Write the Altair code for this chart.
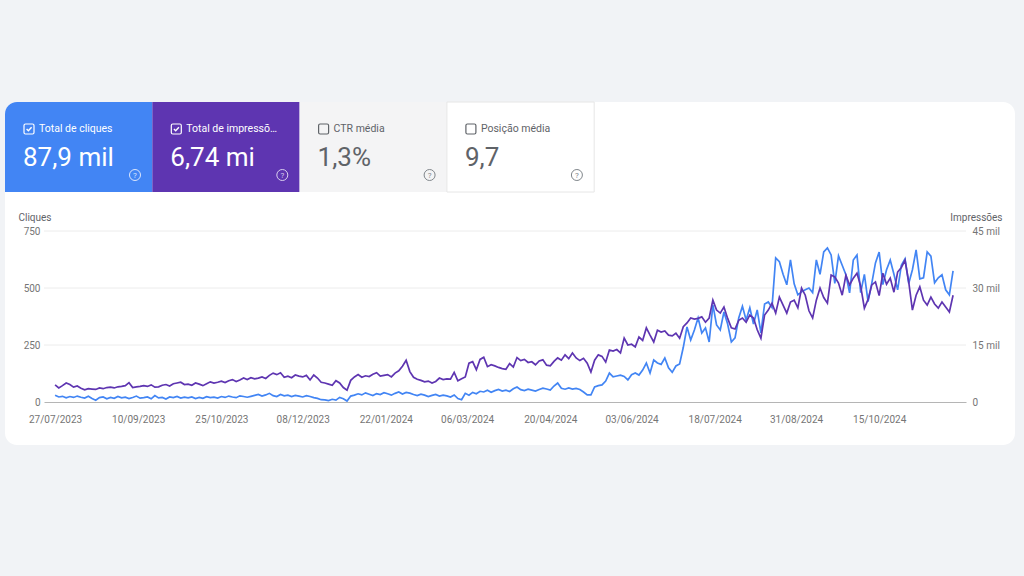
import altair as alt
import pandas as pd

# ---------------- data ----------------
tick_dates = ["27/07/2023", "10/09/2023", "25/10/2023", "08/12/2023", "22/01/2024",
              "06/03/2024", "20/04/2024", "03/06/2024", "18/07/2024", "31/08/2024",
              "15/10/2024"]
click_ticks = [0, 250, 500, 750]
impression_ticks = [0, 15000, 30000, 45000]

tile_labels = ["Total de cliques", "Total de impressõ…", "CTR média", "Posição média"]
tile_values = ["87,9 mil", "6,74 mi", "1,3%", "9,7"]
tile_checked = [True, True, False, False]

# one reading every two days, starting 27/07/2023
clicks = [
    30, 22, 25, 18, 24, 20, 26, 21, 17, 25,
    15, 8, 19, 22, 14, 20, 16, 24, 18, 21,
    15, 20, 26, 17, 19, 22, 14, 28, 18, 20,
    13, 22, 19, 24, 17, 21,
    18, 22, 15, 20, 16, 23, 19, 21, 17, 24,
    20, 26, 22, 19, 27, 24, 21, 25, 29, 33,
    26, 31, 38, 28, 24, 33, 27, 30, 24, 29,
    26, 22, 28, 24, 19, 16, 10,
    9, 6, 12, 8, 20, 14, 4, 26, 30, 36,
    31, 40, 34, 28, 37, 33, 41, 36, 30, 38,
    44, 35, 42, 39, 33, 28, 34, 30, 24, 29,
    33, 26, 30, 27, 22, 31, 15,
    10, 38, 30, 42, 36, 47, 44, 52, 43,
    50, 55, 48, 52, 46, 58, 66, 54, 50, 56,
    52, 48, 55, 61, 57, 52, 70, 83, 60, 56,
    62, 57, 60, 55, 44, 31,
    31, 66, 72, 75, 92, 127, 110, 114, 118, 112,
    97, 120, 127, 118, 140, 171, 127, 184, 171, 165,
    193, 150, 130, 158, 167, 240, 329, 272, 316, 369,
    303, 325, 263, 426, 338, 316,
    395, 342, 263, 281, 369, 420, 360, 413, 342, 404,
    303, 430, 439, 415, 632, 615, 560, 514, 623, 518,
    470, 483, 492, 500, 480, 623, 560, 658, 676, 645,
    520, 641, 600, 558, 479,
    623, 645, 480, 560, 440, 520, 610, 658, 515,
    580, 623, 560, 492, 600, 628, 520, 580, 667, 540,
    545, 658, 640, 523, 545, 558, 492, 470, 575,
]

impressions = [
    4500, 3700, 4300, 5000, 4600, 3900, 4200, 3600, 3200, 3500,
    3400, 3300, 3700, 3500, 3800, 3900, 3700, 4000, 4100, 4300,
    5100, 3800, 4000, 4100, 4300, 4100, 4500, 3900, 4000, 4400,
    4600, 4200, 4800, 5000, 5200, 4600,
    4700, 4400, 5000, 4700, 4300, 4800, 5300, 5000, 5200, 5500,
    5100, 5600, 5900, 5400, 5800, 6300, 5900, 6400, 6100, 6300,
    6600, 6200, 7000, 7600, 7200, 7700, 6500, 6800, 6400, 7100,
    6800, 6600, 7000, 5800, 7100, 6300, 5200,
    5000, 4700, 4400, 5600, 5000, 3800, 3100, 5700, 6600, 7200,
    6500, 6900, 6700, 7300, 7700, 6800, 7000, 7200, 6600, 7600,
    8200, 9400, 11000, 8000, 6500, 6000, 5700, 5300, 5500, 5000,
    5400, 6300, 5900, 6100, 6000, 7800, 5600,
    6100, 6600, 10200, 10600, 8500, 11200, 11800, 9300, 9800,
    9500, 9100, 8800, 8600, 10100, 9200, 11700, 10900, 11200, 10400,
    10600, 9800, 10800, 11100, 9700, 9500, 10700, 11600, 11000, 12400,
    11400, 12900, 11600, 10900, 11500, 10200,
    7900, 11000, 12400, 12000, 10500, 13700, 13400, 13800, 12900, 16800,
    15000, 15200, 14500, 17100, 16200, 19500, 17600, 15800, 18900, 18400,
    18700, 17600, 17400, 18100, 16800, 19800, 20800, 22100, 21800, 22000,
    22400, 21000, 22100, 26800, 24200, 23400,
    25000, 22000, 19500, 19200, 21500, 22100, 21000, 22900, 22100, 19000,
    16800, 22900, 24200, 26000, 23400, 27600, 25500, 23400, 26300, 26800,
    24800, 30000, 28100, 24000, 22100, 26800, 30000, 27500, 26000, 33400,
    32900, 31300, 28100, 33400, 30800,
    32600, 33900, 30500, 24700, 27000, 30800, 31600, 28000, 33900,
    31000, 32600, 28900, 34200, 35400, 37300, 31600, 24200, 28100, 30300,
    26800, 25500, 27600, 25800, 24700, 26300, 25000, 23700, 28100,
]

dates = pd.date_range("2023-07-27", periods=len(clicks), freq="2D")
series = pd.DataFrame({"date": dates, "clicks": clicks, "impressions": impressions})

# ---------------- styling ----------------
FONT = "Roboto"
BLUE = "#4285f4"
PURPLE = "#5e35b1"
PAGE_BG = "#f1f3f6"
GRID = "#ececec"
AXIS_TXT = "#757575"
DARK_TXT = "#5f6368"

# plot area in page pixels
PLOT_L, PLOT_T, W, H = 44, 231, 922, 171


def px(x):
    return x - PLOT_L


def py(y):
    return y - PLOT_T


def to_dt(s):
    d, m, y = s.split("/")
    return alt.DateTime(year=int(y), month=int(m), date=int(d))


one = pd.DataFrame({"k": [0]})

# white card that holds tiles and chart
card = alt.Chart(one).mark_rect(fill="white", cornerRadius=12).encode(
    x=alt.value(px(5)), x2=alt.value(px(1015)), y=alt.value(py(102)), y2=alt.value(py(445))
)

# metric tiles
tile_fill = [BLUE, PURPLE, "#f4f4f5", "#ffffff"]
layers = [card]
TILE_W = 147.3
for i, (lab, val, chk) in enumerate(zip(tile_labels, tile_values, tile_checked)):
    x0 = 5 + TILE_W * i
    fg = "white" if chk else DARK_TXT
    rect_kw = dict(fill=tile_fill[i])
    if i == 0:
        rect_kw["cornerRadiusTopLeft"] = 12
    if i == 3:
        rect_kw.update(stroke="#e6e6e6", strokeWidth=1)
    layers.append(alt.Chart(one).mark_rect(**rect_kw).encode(
        x=alt.value(px(x0)), x2=alt.value(px(x0 + TILE_W)),
        y=alt.value(py(102)), y2=alt.value(py(192))))
    # checkbox
    layers.append(alt.Chart(one).mark_rect(
        fill=tile_fill[i], stroke=fg, strokeWidth=1.2, cornerRadius=1.5).encode(
        x=alt.value(px(x0 + 19)), x2=alt.value(px(x0 + 29)),
        y=alt.value(py(124)), y2=alt.value(py(134))))
    if chk:
        layers.append(alt.Chart(one).mark_point(
            shape="M-0.6,0 L-0.15,0.45 L0.65,-0.45", filled=False, stroke="white",
            strokeWidth=1.4, size=64, opacity=1).encode(
            x=alt.value(px(x0 + 24)), y=alt.value(py(129))))
    layers.append(alt.Chart(one).mark_text(
        text=lab, font=FONT, fontSize=10.5, color=fg, align="left", baseline="middle").encode(
        x=alt.value(px(x0 + 34)), y=alt.value(py(129))))
    layers.append(alt.Chart(one).mark_text(
        text=val, font=FONT, fontSize=26, color=fg, align="left", baseline="alphabetic").encode(
        x=alt.value(px(x0 + 18)), y=alt.value(py(166))))
    # help icon
    q_col = "#dbe6fb" if i == 0 else ("#d9cfee" if i == 1 else "#80868b")
    layers.append(alt.Chart(one).mark_point(
        shape="circle", filled=False, stroke=q_col, strokeWidth=1, size=121, opacity=1).encode(
        x=alt.value(px(x0 + 130)), y=alt.value(py(175))))
    layers.append(alt.Chart(one).mark_text(
        text="?", font=FONT, fontSize=8, color=q_col, align="center", baseline="middle").encode(
        x=alt.value(px(x0 + 130)), y=alt.value(py(175.5))))

# ---------------- chart ----------------
x_enc = alt.X(
    "date:T",
    title=None,
    scale=alt.Scale(domain=[alt.DateTime(year=2023, month=7, date=21),
                            alt.DateTime(year=2024, month=12, date=1)]),
    axis=alt.Axis(values=[to_dt(s) for s in tick_dates], format="%d/%m/%Y",
                  labelFont=FONT, labelFontSize=10, labelColor=AXIS_TXT,
                  labelPadding=12, labelFlush=False, labelOverlap=False,
                  ticks=False, grid=False, domain=True, domainColor="#b5b5b5",
                  domainWidth=1, zindex=1),
)

click_scale = alt.Scale(domain=[0, 750], nice=False)
click_axis = alt.Axis(orient="left", values=click_ticks, title="Cliques",
                      titleAngle=0, titleX=-26, titleY=-14, titleAlign="left",
                      titleBaseline="middle", titleFont=FONT, titleFontSize=10,
                      titleFontWeight="normal", titleColor=DARK_TXT,
                      labelFont=FONT, labelFontSize=10, labelColor=AXIS_TXT,
                      labelPadding=4, ticks=False, grid=False, domain=False,
                      zindex=1)

# horizontal gridlines on the clicks scale
grid = alt.Chart(pd.DataFrame({"clicks": click_ticks[1:]})).mark_rule(
    color=GRID, strokeWidth=1).encode(
    y=alt.Y("clicks:Q", scale=click_scale, axis=click_axis),
    x=alt.value(0), x2=alt.value(W))

blue_line = alt.Chart(series).mark_line(color=BLUE, strokeWidth=1.7).encode(
    x=x_enc,
    y=alt.Y("clicks:Q", scale=click_scale, axis=click_axis),
)

purple_line = alt.Chart(series).mark_line(color=PURPLE, strokeWidth=1.7).encode(
    x=x_enc,
    y=alt.Y("impressions:Q", scale=alt.Scale(domain=[0, 45000], nice=False),
            axis=alt.Axis(orient="right", values=impression_ticks, title="Impressões",
                          labelExpr="datum.value == 0 ? '0' : format(datum.value / 1000, 'd') + ' mil'",
                          titleAngle=0, titleX=36, titleY=-14, titleAlign="right",
                          titleBaseline="middle", titleFont=FONT, titleFontSize=10,
                          titleFontWeight="normal", titleColor=DARK_TXT,
                          labelFont=FONT, labelFontSize=10, labelColor=AXIS_TXT,
                          labelPadding=6, ticks=False, grid=False, domain=False,
                          zindex=1)),
)

layers.append(alt.layer(grid, blue_line))
layers.append(purple_line)

chart = alt.layer(*layers).resolve_scale(y="independent").properties(
    width=W, height=H,
    autosize=alt.AutoSizeParams(type="none"),
    padding={"left": PLOT_L, "top": PLOT_T, "right": 1024 - PLOT_L - W,
             "bottom": 576 - PLOT_T - H},
    background=PAGE_BG,
).configure_view(stroke=None)

chart.save("out.html", embed_options={"renderer": "svg", "actions": False})
